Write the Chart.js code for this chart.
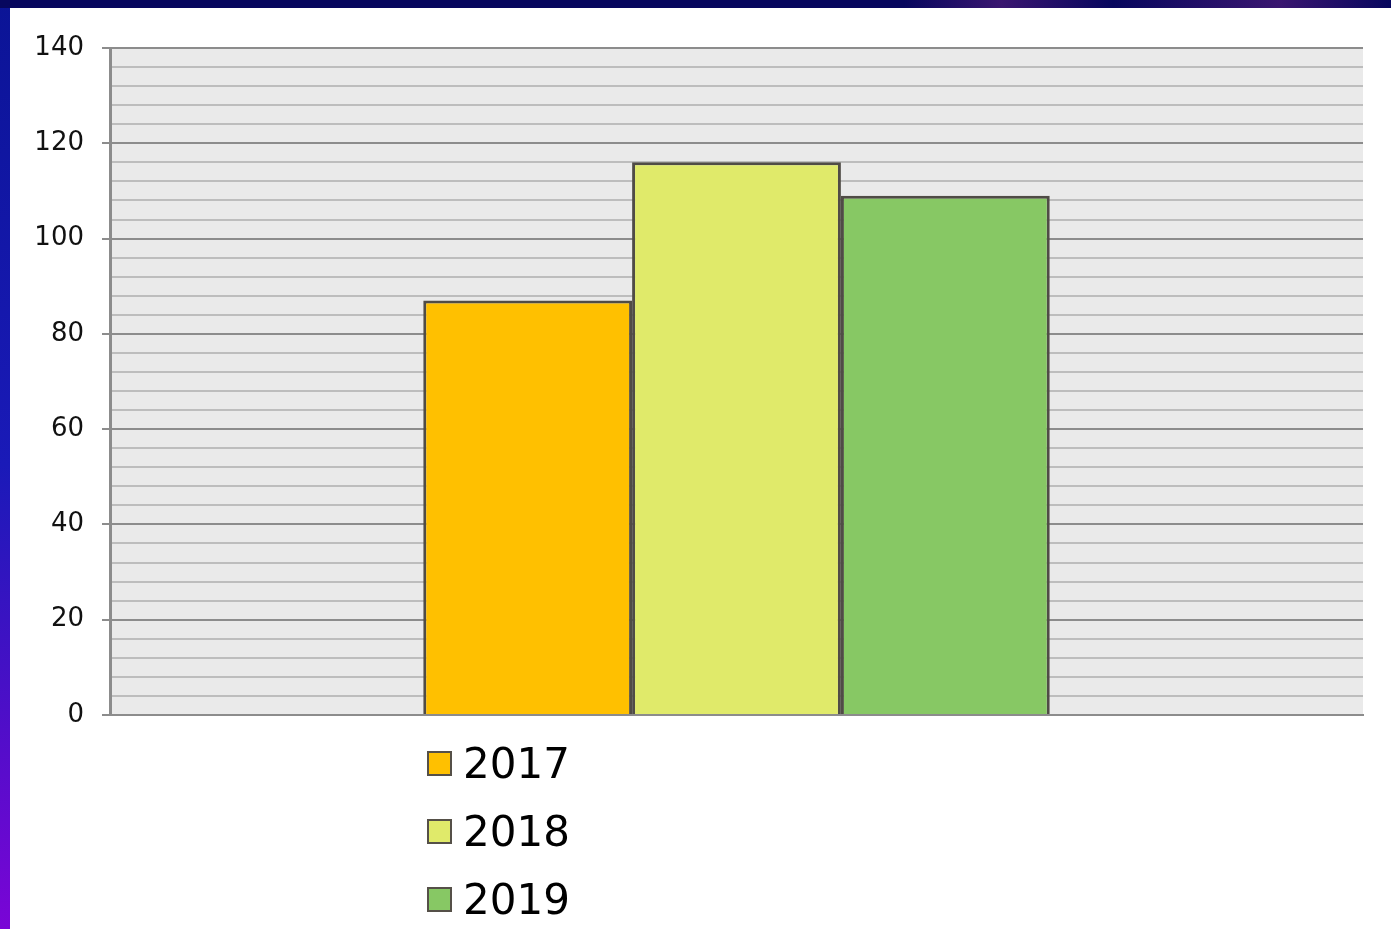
<!DOCTYPE html>
<html>
<head>
<meta charset="utf-8">
<script src="https://cdn.jsdelivr.net/npm/chart.js@4.4.1/dist/chart.umd.min.js"></script>
<style>
    html, body { margin: 0; padding: 0; }
    body {
        width: 1391px;
        height: 929px;
        overflow: hidden;
        position: relative;
        background: linear-gradient(to bottom, #0b1496 0%, #1a1ab8 50%, #7a05d6 100%);
    }
    #topbar {
        position: absolute;
        left: 0; top: 0; width: 1391px; height: 8px;
        background: linear-gradient(to right, #07075e 0%, #07075e 65%, #3a1670 72%, #07075e 80%, #3a1670 92%, #07075e 100%);
    }
    #panel {
        position: absolute;
        left: 10px; top: 8px; width: 1381px; height: 921px;
        background: #ffffff;
    }
    #wrap {
        position: absolute;
        left: 0; top: 0; width: 1391px; height: 929px;
    }
    #legend {
        position: absolute;
        left: 427px; top: 729px;
        font-family: "DejaVu Sans", Verdana, sans-serif;
        font-size: 42px;
        color: #000;
    }
    .item { height: 68px; display: flex; align-items: center; }
    .box {
        width: 21px; height: 21px;
        border: 2px solid #555048;
        margin-right: 11px;
    }
</style>
</head>
<body>
<div id="topbar"></div>
<div id="panel"></div>
<div id="wrap"><canvas id="barChart"></canvas></div>
<div id="legend"></div>
<script>
const categories = [''];
const seriesNames = ['2017', '2018', '2019'];
const values2017 = [87];
const values2018 = [116];
const values2019 = [109];
const seriesColors = ['#ffc000', '#e0ea6a', '#87c864'];
const yTickLabels = [0, 20, 40, 60, 80, 100, 120, 140];

const seriesValues = [values2017, values2018, values2019];

// grey plot background behind the grid
const plotBackground = {
    id: 'plotBackground',
    beforeDraw(chart) {
        const { ctx, chartArea } = chart;
        ctx.save();
        ctx.fillStyle = '#eaeaea';
        ctx.fillRect(chartArea.left, chartArea.top, chartArea.right - chartArea.left, chartArea.bottom - chartArea.top);
        ctx.restore();
    }
};

const ctx = document.getElementById('barChart').getContext('2d');

const chart = new Chart(ctx, {
    type: 'bar',
    data: {
        labels: categories,
        datasets: seriesNames.map((name, i) => ({
            label: name,
            data: seriesValues[i],
            backgroundColor: seriesColors[i],
            borderColor: '#504c46',
            borderWidth: 3,
            categoryPercentage: 0.5,
            barPercentage: 1.0
        }))
    },
    options: {
        responsive: true,
        maintainAspectRatio: false,
        animation: false,
        layout: {
            padding: { left: 10, top: 48, right: 28, bottom: 214 }
        },
        plugins: {
            legend: { display: false },
            tooltip: { enabled: false }
        },
        scales: {
            x: {
                grid: { display: false },
                ticks: { display: false },
                border: { color: '#8c8c8c', width: 2 },
                afterFit: scale => { scale.height = 0; }
            },
            y: {
                min: 0,
                max: 140,
                afterFit: scale => { scale.width = 100; },
                ticks: {
                    stepSize: 4,
                    autoSkip: false,
                    padding: 18,
                    color: '#111',
                    font: { family: '"DejaVu Sans", Verdana, sans-serif', size: 26 },
                    callback: v => yTickLabels.includes(v) ? String(v) : ''
                },
                grid: {
                    lineWidth: 2,
                    tickLength: 8,
                    color: c => (c.tick && c.tick.value % 20 === 0) ? '#8c8c8c' : '#bdbdbd',
                    tickColor: c => (c.tick && c.tick.value % 20 === 0) ? '#8c8c8c' : 'rgba(0,0,0,0)'
                },
                border: { color: '#8c8c8c', width: 3 }
            }
        }
    },
    plugins: [plotBackground]
});

// legend stacked below the bars
const legendEl = document.getElementById('legend');
chart.data.datasets.forEach(ds => {
    const row = document.createElement('div');
    row.className = 'item';
    const box = document.createElement('div');
    box.className = 'box';
    box.style.background = ds.backgroundColor;
    const txt = document.createElement('span');
    txt.innerText = ds.label;
    row.appendChild(box);
    row.appendChild(txt);
    legendEl.appendChild(row);
});
</script>
</body>
</html>
